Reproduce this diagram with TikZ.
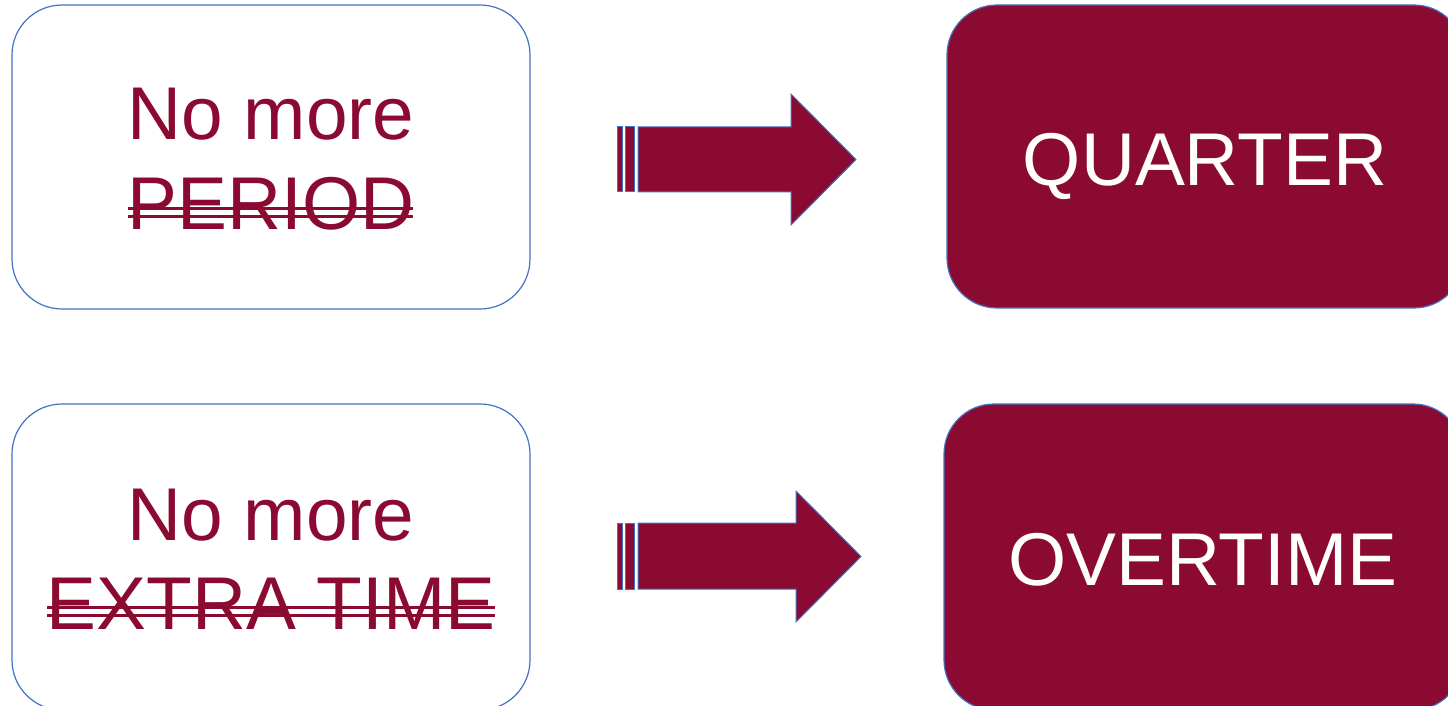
\documentclass[tikz,border=0pt]{standalone}
\usepackage{fontspec}
\setmainfont{Liberation Sans}
\definecolor{maroon}{RGB}{139,10,50}
\definecolor{edgeblue}{RGB}{68,114,196}
\begin{document}
\begin{tikzpicture}[x=0.5pt,y=-0.5pt,
  boxbase/.style={draw=edgeblue, line width=0.6pt, rectangle, rounded corners=25pt, inner sep=0pt},
  whitebox/.style={boxbase, fill=white},
  redbox/.style={boxbase, fill=maroon},
  lbl/.style={inner sep=0pt, anchor=base, font=\fontsize{37.4}{45}\selectfont},
  darklbl/.style={lbl, text=maroon},
  lightlbl/.style={lbl, text=white},
  arrowbody/.style={draw=edgeblue, line width=0.5pt, fill=maroon, line join=miter},
  strike/.style={draw=maroon, line width=1.7pt}]
\useasboundingbox (0,0) rectangle (1448,706);
\clip (0,0) rectangle (1448,706);

% boxes
\node[whitebox, minimum width=259pt, minimum height=152pt] (b1) at (271,157) {};
\node[whitebox, minimum width=259pt, minimum height=153pt] (b2) at (271,557) {};
\node[redbox, minimum width=258.5pt, minimum height=151.5pt] (b3) at (1205.5,156.5) {};
\node[redbox, minimum width=259.5pt, minimum height=153pt] (b4) at (1203.5,557) {};

% left texts
\node[darklbl] (t1a) at (271,140) {No more};
\node[darklbl] (t1b) at (271,230) {PERIOD};
\node[darklbl] (t2a) at (271,540) {No more};
\node[darklbl] (t2b) at (271,629) {EXTRA TIME};

% strike-through double lines
\draw[strike] (128,208.5) -- (413,208.5);
\draw[strike] (128,216.5) -- (413,216.5);
\draw[strike] (47,607.5) -- (495,607.5);
\draw[strike] (47,615.5) -- (495,615.5);

% right texts
\node[lightlbl] (t3) at (1205,186) {QUARTER};
\node[lightlbl] (t4) at (1203,585) {OVERTIME};

% striped arrows
\draw[arrowbody] (617,127) rectangle (622,192);
\draw[arrowbody] (625,127) rectangle (634,192);
\draw[arrowbody] (638,127) -- (791,127) -- (791,94) -- (856,159.5) -- (791,225) -- (791,192) -- (638,192) -- cycle;

\draw[arrowbody] (617,523) rectangle (622,589);
\draw[arrowbody] (625,523) rectangle (634,589);
\draw[arrowbody] (638,523) -- (796,523) -- (796,491) -- (861,556.5) -- (796,622) -- (796,589) -- (638,589) -- cycle;
\end{tikzpicture}
\end{document}
